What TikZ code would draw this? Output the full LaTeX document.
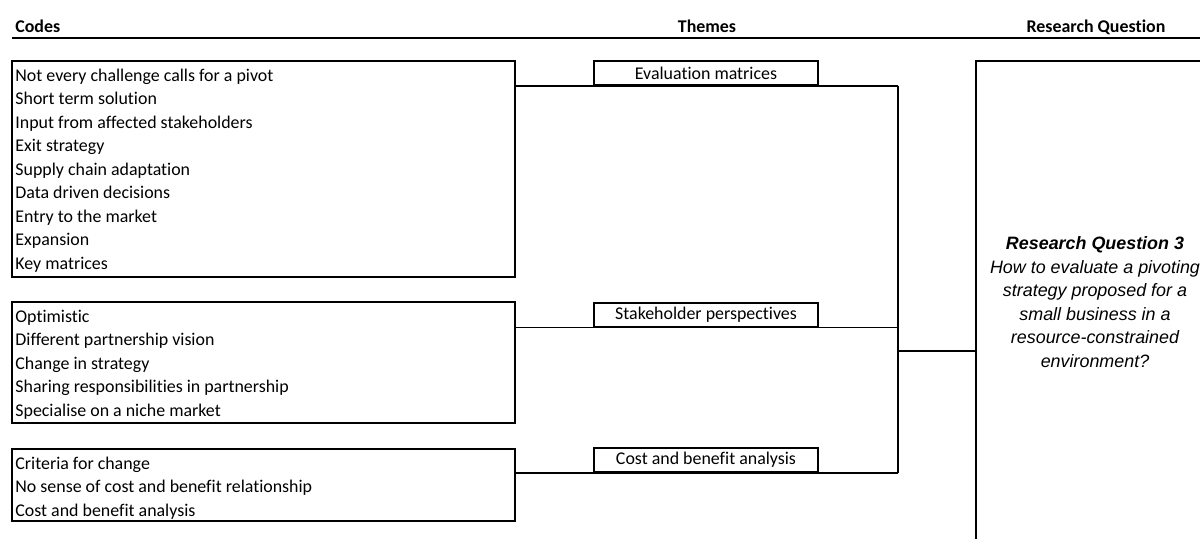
\documentclass[tikz,border=0pt]{standalone}
\usepackage{fontspec}
\setmainfont{Carlito}[Ligatures=NoCommon]
\newfontfamily\arialfont{Liberation Sans}
\usetikzlibrary{fit}

\begin{document}
\begin{tikzpicture} [
                x=0.5pt, y=-0.5pt,
                font=\fontsize{8.95}{11.75}\selectfont,
                header/.style = {anchor=base, font=\fontsize{8.95}{11.75}\selectfont\bfseries, inner sep=0pt},
                codebox/.style = {draw, line width=1pt, inner sep=0pt},
                code/.style = {anchor=base west, inner sep=0pt},
                theme/.style = {draw, line width=1pt, minimum width=112pt, minimum height=12pt, inner sep=0pt},
                link/.style = {draw, line width=0.65pt},
            ]
            \useasboundingbox (0,0) rectangle (1200,538);
            \clip (0,0) rectangle (1200,538);
            % headers
            \node[header, anchor=base west] (hcodes) at (15,32) {Codes};
            \node[header] (hthemes) at (707,32) {Themes};
            \node[header] (hrq) at (1096,32) {Research Question};
            \draw[line width=1pt] (12,38) -- (1200,38);
            % code boxes
            \foreach \name/\nw/\se in {
                    c1/{(12,61)}/{(515,277)}, c2/{(12,302)}/{(515,423)}, c3/{(12,449)}/{(515,521)}}
                \node[codebox, fit={\nw\se}] (\name) {};
            \foreach \txt [count=\i from 0] in {
                    Not every challenge calls for a pivot, Short term solution,
                    Input from affected stakeholders, Exit strategy,
                    Supply chain adaptation, Data driven decisions,
                    Entry to the market, Expansion, Key matrices}
                \node[code] (c1r\i) at (15,81+23.5*\i) {\txt};
            \foreach \txt [count=\i from 0] in {
                    Optimistic, Different partnership vision, Change in strategy,
                    Sharing responsibilities in partnership, Specialise on a niche market}
                \node[code] (c2r\i) at (15,322+23.5*\i) {\txt};
            \foreach \txt [count=\i from 0] in {
                    Criteria for change, No sense of cost and benefit relationship,
                    Cost and benefit analysis}
                \node[code] (c3r\i) at (15,469+23.5*\i) {\txt};
            % themes
            \foreach \pos/\name/\txt in {
                    {(706,73)/t1/Evaluation matrices},
                    {(706,314.5)/t2/Stakeholder perspectives},
                    {(706,460)/t3/Cost and benefit analysis}}
                \node[theme] (\name) at \pos {\txt};
            % research question
            \coordinate (rqnw) at (976,61);
            \coordinate (rqse) at (1214,560);
            \node[codebox, fit=(rqnw)(rqse)] (rq) {};
            \node[align=center, font=\arialfont\itshape\fontsize{8.95}{11.75}\selectfont] (rqtext) at (1095,302)
                {\textbf{Research Question 3}\\How to evaluate a pivoting\\strategy proposed for a\\small business in a\\resource-constrained\\environment?};
            \coordinate (j) at (898,351);
            % links
            \foreach \source/\dest in {
                    c1/t1, c2/t2, c3/t3}
                \path[link] (\source.east |- \dest.south) -- (\dest.south -| j);
            \path[link] (t1.south -| j) -- (t3.south -| j);
            \path[link] (j) -- (j -| rq.west);
        \end{tikzpicture}
\end{document}
